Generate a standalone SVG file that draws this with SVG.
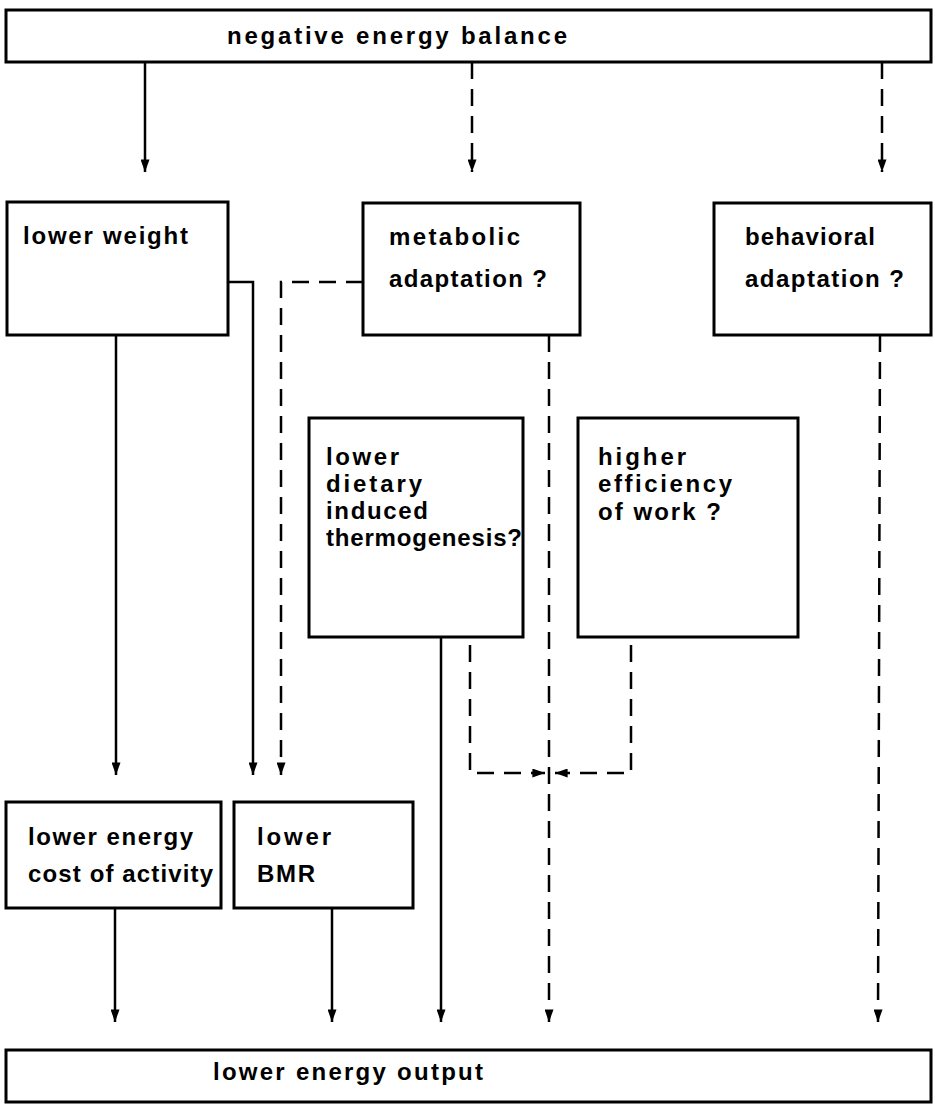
<svg xmlns="http://www.w3.org/2000/svg" width="935" height="1111" viewBox="0 0 935 1111">
<style>
.box{fill:#fff;stroke:#000;stroke-width:3}
.t{font-family:"Liberation Sans",Arial,sans-serif;font-weight:bold;font-size:24px;fill:#000}
.s{fill:none;stroke:#000;stroke-width:2.5}
.d{fill:none;stroke:#000;stroke-width:2.5;stroke-dasharray:17 10}
</style>
<defs>
<marker id="ah" viewBox="0 0 14 10" refX="14" refY="5" markerWidth="14" markerHeight="9" markerUnits="userSpaceOnUse" orient="auto">
<path d="M0,0 L14,5 L0,10 z" fill="#000"/>
</marker>
</defs>
<rect width="935" height="1111" fill="#fff"/>
<g id="connectors">
<path class="s" d="M145,62 V172" marker-end="url(#ah)"/>
<path class="d" d="M472,62 V172" marker-end="url(#ah)"/>
<path class="d" d="M882,62 V172" marker-end="url(#ah)"/>
<path class="s" d="M116,335 V775" marker-end="url(#ah)"/>
<path class="s" d="M228,282 H253 V775" marker-end="url(#ah)"/>
<path class="d" d="M363,282 H281 V775" marker-end="url(#ah)"/>
<path class="d" d="M549,335 V1022" marker-end="url(#ah)"/>
<path class="d" d="M880,335 L878,1022" marker-end="url(#ah)"/>
<path class="s" d="M441,637 V1022" marker-end="url(#ah)"/>
<path class="d" d="M470,645 V773 H545" marker-end="url(#ah)"/>
<path class="d" d="M631,645 V773 H555" marker-end="url(#ah)"/>
<path class="s" d="M115,908 V1022" marker-end="url(#ah)"/>
<path class="s" d="M332,908 V1022" marker-end="url(#ah)"/>
</g>
<g id="neg-energy-balance">
<rect class="box" x="6" y="10" width="925" height="52"/>
<text class="t" x="227" y="44" textLength="340" lengthAdjust="spacing">negative energy balance</text>
</g>
<g id="lower-weight">
<rect class="box" x="7" y="202" width="221" height="133"/>
<text class="t" x="23" y="244" textLength="165" lengthAdjust="spacing">lower weight</text>
</g>
<g id="metabolic-adaptation">
<rect class="box" x="363" y="203" width="217" height="132"/>
<text class="t" x="389" y="245" textLength="131" lengthAdjust="spacing">metabolic</text>
<text class="t" x="389" y="287" textLength="158" lengthAdjust="spacing">adaptation ?</text>
</g>
<g id="behavioral-adaptation">
<rect class="box" x="714" y="203" width="217" height="132"/>
<text class="t" x="745" y="245" textLength="130" lengthAdjust="spacing">behavioral</text>
<text class="t" x="745" y="287" textLength="159" lengthAdjust="spacing">adaptation ?</text>
</g>
<g id="lower-dit">
<rect class="box" x="309" y="418" width="214" height="219"/>
<text class="t" x="326" y="465" textLength="73" lengthAdjust="spacing">lower</text>
<text class="t" x="326" y="492" textLength="96" lengthAdjust="spacing">dietary</text>
<text class="t" x="326" y="519" textLength="102" lengthAdjust="spacing">induced</text>
<text class="t" x="326" y="546" textLength="196" lengthAdjust="spacing">thermogenesis?</text>
</g>
<g id="higher-efficiency">
<rect class="box" x="578" y="418" width="220" height="219"/>
<text class="t" x="598" y="465" textLength="88" lengthAdjust="spacing">higher</text>
<text class="t" x="598" y="492" textLength="134" lengthAdjust="spacing">efficiency</text>
<text class="t" x="598" y="520" textLength="123" lengthAdjust="spacing">of work ?</text>
</g>
<g id="lower-energy-cost">
<rect class="box" x="6" y="802" width="215" height="106"/>
<text class="t" x="28" y="845" textLength="165" lengthAdjust="spacing">lower energy</text>
<text class="t" x="28" y="882" textLength="185" lengthAdjust="spacing">cost of activity</text>
</g>
<g id="lower-bmr">
<rect class="box" x="234" y="802" width="179" height="106"/>
<text class="t" x="257" y="845" textLength="74" lengthAdjust="spacing">lower</text>
<text class="t" x="257" y="882" textLength="58" lengthAdjust="spacing">BMR</text>
</g>
<g id="lower-energy-output">
<rect class="box" x="6" y="1050" width="925" height="52"/>
<text class="t" x="213" y="1080" textLength="270" lengthAdjust="spacing">lower energy output</text>
</g>
</svg>
